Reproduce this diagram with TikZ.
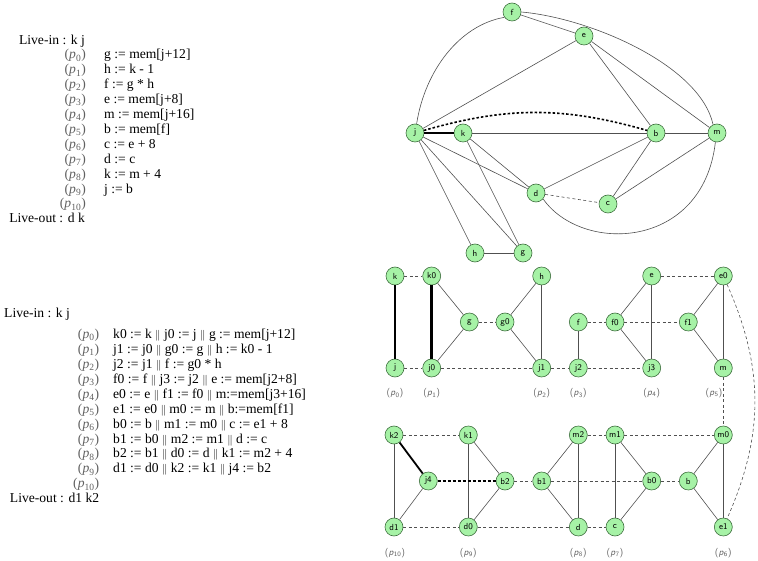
\documentclass[tikz,border=0pt]{standalone}
\usepackage{fontspec}
\setmainfont{Liberation Serif}
\definecolor{lgreen}{HTML}{A6F2A6}
\definecolor{vborder}{HTML}{3F6F3F}
\definecolor{edgegray}{HTML}{505050}
\definecolor{labgray}{HTML}{606060}
\newcommand{\pl}[1]{(\textit{p}\textsubscript{#1})}
\newcommand{\gl}[1]{{\sffamily(\textsl{p}\textsubscript{#1})}}
\newcommand{\pp}{{\fontsize{11}{11}\selectfont$\|$}}
\begin{document}
\begin{tikzpicture}[x=1pt,y=1pt,
  vx/.style={circle, draw=vborder, fill=lgreen, minimum size=18pt, inner sep=0pt,
    font=\sffamily\fontsize{8.8}{9}\selectfont, line width=0.6pt},
  ed/.style={draw=edgegray, line width=0.6pt},
  dsh/.style={draw=edgegray, line width=0.6pt, dash pattern=on 3pt off 2.5pt},
  thk/.style={draw=black, line width=1.8pt},
  vthk/.style={draw=black, line width=2.8pt},
  thkdot/.style={draw=black, line width=2.2pt, dash pattern=on 3pt off 2pt},
  lab/.style={anchor=mid east, inner sep=0pt, text=labgray, font=\fontsize{13.6}{15}\selectfont},
  txt/.style={anchor=mid west, inner sep=0pt, font=\fontsize{13.6}{15}\selectfont},
  live/.style={inner sep=0pt, font=\fontsize{13.6}{15}\selectfont},
  glab/.style={inner sep=0pt, text=labgray, font=\fontsize{9.5}{10}\selectfont}
]
\useasboundingbox (0,0) rectangle (758,-561);

% ---------- top text ----------
\node[live, anchor=mid east] (li1) at (85,-42.7) {Live-in : k j};
\node[lab] (a0) at (86,-56.7) {\pl{0}};
\node[txt] (t0) at (104,-56.7) {g := mem[j+12]};
\node[lab] (a1) at (86,-71.6) {\pl{1}};
\node[txt] (t1) at (104,-71.6) {h := k - 1};
\node[lab] (a2) at (86,-86.5) {\pl{2}};
\node[txt] (t2) at (104,-86.5) {f := g * h};
\node[lab] (a3) at (86,-101.4) {\pl{3}};
\node[txt] (t3) at (104,-101.4) {e := mem[j+8]};
\node[lab] (a4) at (86,-116.3) {\pl{4}};
\node[txt] (t4) at (104,-116.3) {m := mem[j+16]};
\node[lab] (a5) at (86,-131.2) {\pl{5}};
\node[txt] (t5) at (104,-131.2) {b := mem[f]};
\node[lab] (a6) at (86,-146.1) {\pl{6}};
\node[txt] (t6) at (104,-146.1) {c := e + 8};
\node[lab] (a7) at (86,-161.0) {\pl{7}};
\node[txt] (t7) at (104,-161.0) {d := c};
\node[lab] (a8) at (86,-175.9) {\pl{8}};
\node[txt] (t8) at (104,-175.9) {k := m + 4};
\node[lab] (a9) at (86,-190.8) {\pl{9}};
\node[txt] (t9) at (104,-190.8) {j := b};
\node[lab] (a10) at (86,-205.7) {\pl{10}};
\node[live, anchor=mid east] (lo1) at (85,-220.7) {Live-out : d k};

% ---------- bottom text ----------
\node[live, anchor=mid west] (li2) at (4,-315) {Live-in : k j};
\node[lab] (b0l) at (99.3,-336) {\pl{0}};
\node[txt] (u0) at (113,-336) {k0 := k \pp{} j0 := j \pp{} g := mem[j+12]};
\node[lab] (b1l) at (99.3,-350.96) {\pl{1}};
\node[txt] (u1) at (113,-350.96) {j1 := j0 \pp{} g0 := g \pp{} h := k0 - 1};
\node[lab] (b2l) at (99.3,-365.92) {\pl{2}};
\node[txt] (u2) at (113,-365.92) {j2 := j1 \pp{} f := g0 * h};
\node[lab] (b3l) at (99.3,-380.88) {\pl{3}};
\node[txt] (u3) at (113,-380.88) {f0 := f \pp{} j3 := j2 \pp{} e := mem[j2+8]};
\node[lab] (b4l) at (99.3,-395.84) {\pl{4}};
\node[txt] (u4) at (113,-395.84) {e0 := e \pp{} f1 := f0 \pp{} m:=mem[j3+16]};
\node[lab] (b5l) at (99.3,-410.8) {\pl{5}};
\node[txt] (u5) at (113,-410.8) {e1 := e0 \pp{} m0 := m \pp{} b:=mem[f1]};
\node[lab] (b6l) at (99.3,-425.76) {\pl{6}};
\node[txt] (u6) at (113,-425.76) {b0 := b \pp{} m1 := m0 \pp{} c := e1 + 8};
\node[lab] (b7l) at (99.3,-440.72) {\pl{7}};
\node[txt] (u7) at (113,-440.72) {b1 := b0 \pp{} m2 := m1 \pp{} d := c};
\node[lab] (b8l) at (99.3,-455.68) {\pl{8}};
\node[txt] (u8) at (113,-455.68) {b2 := b1 \pp{} d0 := d \pp{} k1 := m2 + 4};
\node[lab] (b9l) at (99.3,-470.64) {\pl{9}};
\node[txt] (u9) at (113,-470.64) {d1 := d0 \pp{} k2 := k1 \pp{} j4 := b2};
\node[lab] (b10l) at (99.3,-485.7) {\pl{10}};
\node[live, anchor=mid east] (lo2) at (99.3,-500) {Live-out : d1 k2};

% ---------- top graph ----------
\node[vx] (Tf) at (512,-12) {f};
\node[vx] (Te) at (584,-36) {e};
\node[vx] (Tj) at (415,-133) {j};
\node[vx] (Tk) at (463,-133) {k};
\node[vx] (Tb) at (656,-133) {b};
\node[vx] (Tm) at (717,-133) {m};
\node[vx] (Td) at (536,-193) {d};
\node[vx] (Tc) at (608,-204) {c};
\node[vx] (Th) at (475,-253) {h};
\node[vx] (Tg) at (523,-253) {g};

\draw[ed] (Tj.80) .. controls (425,-70) and (460,-25) .. (Tf.215);
\draw[ed] (Tf.east) .. controls (590,-18) and (700,-65) .. (Tm.115);
\draw[ed] (Tf) -- (Te);
\draw[ed] (Te) -- (Tj);
\draw[ed] (Te) -- (Tb);
\draw[ed] (Te) -- (Tm);
\draw[thk] (Tj) -- (Tk);
\draw[ed] (Tk) -- (Tb);
\draw[thkdot, line width=1.6pt, dash pattern=on 2.5pt off 2pt] (Tj) to[bend left=16] (Tb);
\draw[ed] (Tb) -- (Tm);
\draw[ed] (Tb) -- (Td);
\draw[ed] (Tb) -- (Tc);
\draw[ed] (Tm) -- (Tc);
\draw[ed] (Tm.-100) .. controls (703,-250) and (582,-254) .. (Td.-40);
\draw[dsh] (Td) -- (Tc);
\draw[ed] (Tj) -- (Td);
\draw[ed] (Tk) -- (Td);
\draw[ed] (Tj) -- (Th);
\draw[ed] (Tj) -- (Tg);
\draw[ed] (Tk) -- (Tg);
\draw[ed] (Th) -- (Tg);

% ---------- bottom graph, row A ----------
\node[vx] (Ak) at (395,-276) {k};
\node[vx] (Aj) at (395,-368) {j};
\node[vx] (Ak0) at (431.7,-276) {k0};
\node[vx] (Aj0) at (431.7,-368) {j0};
\node[vx] (Ag) at (469.3,-322) {g};
\node[vx] (Ag0) at (505,-322) {g0};
\node[vx] (Ah) at (541.7,-276) {h};
\node[vx] (Aj1) at (541.7,-368) {j1};
\node[vx] (Af) at (578.3,-322) {f};
\node[vx] (Aj2) at (578.3,-368) {j2};
\node[vx] (Af0) at (615,-322) {f0};
\node[vx] (Ae) at (651.7,-276) {e};
\node[vx] (Aj3) at (651.7,-368) {j3};
\node[vx] (Af1) at (688.3,-322) {f1};
\node[vx] (Ae0) at (723.3,-276) {e0};
\node[vx] (Am) at (723.3,-368) {m};

\node[glab] (gp0) at (395,-393.3) {\gl{0}};
\node[glab] (gp1) at (431.7,-393.3) {\gl{1}};
\node[glab] (gp2) at (541.7,-393.3) {\gl{2}};
\node[glab] (gp3) at (578.3,-393.3) {\gl{3}};
\node[glab] (gp4) at (651.7,-393.3) {\gl{4}};
\node[glab] (gp5) at (714,-393.3) {\gl{5}};

% ---------- bottom graph, row B ----------
\node[vx] (Bk2) at (394,-435) {k2};
\node[vx] (Bd1) at (394,-527) {d1};
\node[vx] (Bj4) at (428.3,-481) {j4};
\node[vx] (Bk1) at (468.3,-435) {k1};
\node[vx] (Bd0) at (468.3,-527) {d0};
\node[vx] (Bb2) at (505,-481) {b2};
\node[vx] (Bb1) at (541.7,-481) {b1};
\node[vx] (Bm2) at (578.3,-435) {m2};
\node[vx] (Bd) at (578.3,-527) {d};
\node[vx] (Bm1) at (615,-435) {m1};
\node[vx] (Bc) at (615,-527) {c};
\node[vx] (Bb0) at (651.7,-481) {b0};
\node[vx] (Bb) at (688.3,-481) {b};
\node[vx] (Bm0) at (723.3,-435) {m0};
\node[vx] (Be1) at (723.3,-527) {e1};

\node[glab] (gp10) at (395,-552.7) {\gl{10}};
\node[glab] (gp9) at (468.3,-552.7) {\gl{9}};
\node[glab] (gp8) at (578.3,-552.7) {\gl{8}};
\node[glab] (gp7) at (615,-552.7) {\gl{7}};
\node[glab] (gp6) at (723.3,-552.7) {\gl{6}};

% row A edges
\draw[vthk] (Ak) -- (Aj);
\draw[dsh] (Ak) -- (Ak0);
\draw[vthk] (Ak0) -- (Aj0);
\draw[ed] (Ak0) -- (Ag);
\draw[ed] (Aj0) -- (Ag);
\draw[dsh] (Aj) -- (Aj0);
\draw[dsh] (Ag) -- (Ag0);
\draw[ed] (Ag0) -- (Ah);
\draw[ed] (Ag0) -- (Aj1);
\draw[ed] (Ah) -- (Aj1);
\draw[dsh] (Aj0) -- (Aj1);
\draw[dsh] (Aj1) -- (Aj2);
\draw[ed] (Af) -- (Aj2);
\draw[dsh] (Af) -- (Af0);
\draw[dsh] (Aj2) -- (Aj3);
\draw[ed] (Af0) -- (Ae);
\draw[ed] (Af0) -- (Aj3);
\draw[ed] (Ae) -- (Aj3);
\draw[dsh] (Ae) -- (Ae0);
\draw[dsh] (Af0) -- (Af1);
\draw[ed] (Af1) -- (Ae0);
\draw[ed] (Af1) -- (Am);
\draw[ed] (Ae0) -- (Am);

% links between rows
\draw[dsh] (Am) -- (Bm0);
\draw[dsh] (Ae0) to[bend left=24] (Be1);

% row B edges
\draw[ed] (Bk2) -- (Bd1);
\draw[thk] (Bk2) -- (Bj4);
\draw[ed] (Bj4) -- (Bd1);
\draw[dsh] (Bk2) -- (Bk1);
\draw[ed] (Bk1) -- (Bd0);
\draw[ed] (Bk1) -- (Bb2);
\draw[ed] (Bd0) -- (Bb2);
\draw[thkdot] (Bj4) -- (Bb2);
\draw[dsh] (Bd1) -- (Bd0);
\draw[dsh] (Bb2) -- (Bb1);
\draw[ed] (Bb1) -- (Bm2);
\draw[ed] (Bb1) -- (Bd);
\draw[ed] (Bm2) -- (Bd);
\draw[dsh] (Bd0) -- (Bd);
\draw[dsh] (Bm2) -- (Bm1);
\draw[dsh] (Bd) -- (Bc);
\draw[ed] (Bm1) -- (Bc);
\draw[ed] (Bm1) -- (Bb0);
\draw[ed] (Bc) -- (Bb0);
\draw[dsh] (Bb1) -- (Bb0);
\draw[dsh] (Bb0) -- (Bb);
\draw[dsh] (Bm1) -- (Bm0);
\draw[ed] (Bb) -- (Bm0);
\draw[ed] (Bb) -- (Be1);
\draw[ed] (Bm0) -- (Be1);
\end{tikzpicture}
\end{document}
